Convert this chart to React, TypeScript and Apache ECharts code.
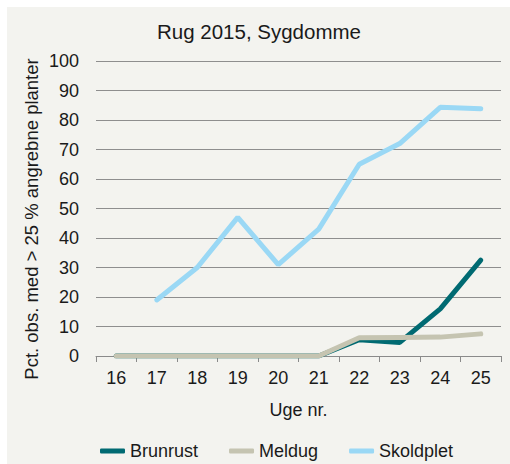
import React, { useEffect, useRef } from "react";
import * as echarts from "echarts";

const weeks = ["16", "17", "18", "19", "20", "21", "22", "23", "24", "25"];
const brunrust = [0, 0, 0, 0, 0, 0, 5.5, 4.6, 16, 32.5];
const meldug = [0, 0, 0, 0, 0, 0, 6.2, 6.3, 6.4, 7.5];
const skoldplet = [null, 19, 30, 47, 31, 43, 65, 72, 84.3, 83.8];

const FONT = "'Liberation Sans', Arial, sans-serif";
const TXT = "#1a1a1a";

export default function App() {
  const ref = useRef<HTMLDivElement>(null);
  useEffect(() => {
    if (!ref.current) return;
    const chart = echarts.init(ref.current, null, { renderer: "svg" });
    chart.setOption({
      animation: false,
      textStyle: { fontFamily: FONT },
      title: {
        text: "Rug 2015, Sygdomme",
        left: 157,
        top: 21,
        padding: 0,
        textStyle: { fontSize: 20.5, fontWeight: "normal", color: TXT, fontFamily: FONT },
      },
      graphic: [
        {
          type: "rect",
          z: -10,
          silent: true,
          shape: { x: 7, y: 7, width: 503, height: 457 },
          style: { fill: "#f3f3ef" },
        },
        {
          type: "text",
          x: 31,
          y: 219,
          rotation: Math.PI / 2,
          style: {
            text: "Pct. obs. med > 25 % angrebne planter",
            font: `18.5px ${FONT}`,
            fill: TXT,
            align: "center",
            verticalAlign: "middle",
          },
        },
      ],
      legend: {
        left: 100,
        top: 442,
        padding: 0,
        itemGap: 31,
        itemWidth: 25,
        itemHeight: 5,
        icon: "roundRect",
        textStyle: { fontSize: 18, color: TXT, fontFamily: FONT },
        data: ["Brunrust", "Meldug", "Skoldplet"],
      },
      grid: { left: 96, right: 9, top: 61, bottom: 108, containLabel: false },
      xAxis: {
        type: "category",
        data: weeks,
        name: "Uge nr.",
        nameLocation: "middle",
        nameGap: 45,
        nameTextStyle: { fontSize: 18, color: TXT, fontFamily: FONT },
        axisLine: { lineStyle: { color: "#8a8a8a", width: 1 } },
        axisTick: { show: true, length: 6, lineStyle: { color: "#8a8a8a" } },
        axisLabel: { fontSize: 18, color: TXT, margin: 13, fontFamily: FONT },
      },
      yAxis: {
        type: "value",
        min: 0,
        max: 100,
        interval: 10,
        axisLine: { show: false },
        axisTick: { show: false },
        axisLabel: { fontSize: 18, color: TXT, margin: 17, fontFamily: FONT },
        splitLine: { lineStyle: { color: "#8e8e8e", width: 1 } },
      },
      series: [
        {
          name: "Brunrust",
          type: "line",
          data: brunrust,
          showSymbol: false,
          symbol: "none",
          color: "#006a72",
          lineStyle: { width: 5, color: "#006a72", cap: "round" },
        },
        {
          name: "Meldug",
          type: "line",
          data: meldug,
          showSymbol: false,
          symbol: "none",
          color: "#c5c4b1",
          lineStyle: { width: 5, color: "#c5c4b1", cap: "round" },
        },
        {
          name: "Skoldplet",
          type: "line",
          data: skoldplet,
          showSymbol: false,
          symbol: "none",
          color: "#9ad8f5",
          lineStyle: { width: 5, color: "#9ad8f5", cap: "round" },
        },
      ],
    });
    return () => chart.dispose();
  }, []);
  return (
    <div
      ref={ref}
      style={{ position: "absolute", left: 0, top: 0, width: 510, height: 464 }}
    />
  );
}
